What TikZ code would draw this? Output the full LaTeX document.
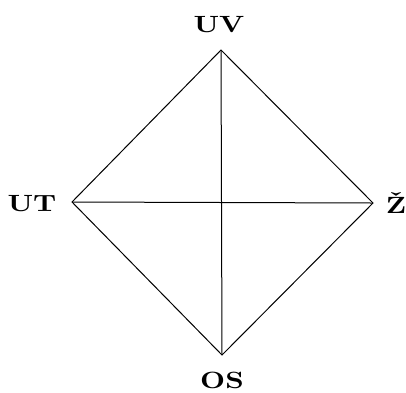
\documentclass[tikz,border=0pt]{standalone}
\usepackage{graphicx}
\newcommand{\lblfont}{\fontsize{10}{12}\selectfont\bfseries}
\tikzset{
  lbl/.style={inner sep=0pt},
  edge/.style={line width=1pt, black}
}
\newcommand{\widetxt}[1]{\scalebox{2.9}[2.35]{\lblfont #1}}
\begin{document}
\begin{tikzpicture}[x=1pt,y=-1pt]
\useasboundingbox (0,0) rectangle (406,392);
\coordinate (T) at (221,50);
\coordinate (L) at (72,202);
\coordinate (R) at (373,203);
\coordinate (B) at (222,355);
\node[lbl] (uv) at (219,25) {\widetxt{UV}};
\node[lbl] (ut) at (32,203.5) {\widetxt{UT}};
\node[lbl] (z) at (396,203) {\widetxt{Ž}};
\node[lbl] (os) at (222,380) {\widetxt{OS}};
\draw[edge, line join=miter] (T) -- (R) -- (B) -- (L) -- cycle;
\draw[edge] (T) -- (B);
\draw[edge] (L) -- (R);
\end{tikzpicture}
\end{document}
